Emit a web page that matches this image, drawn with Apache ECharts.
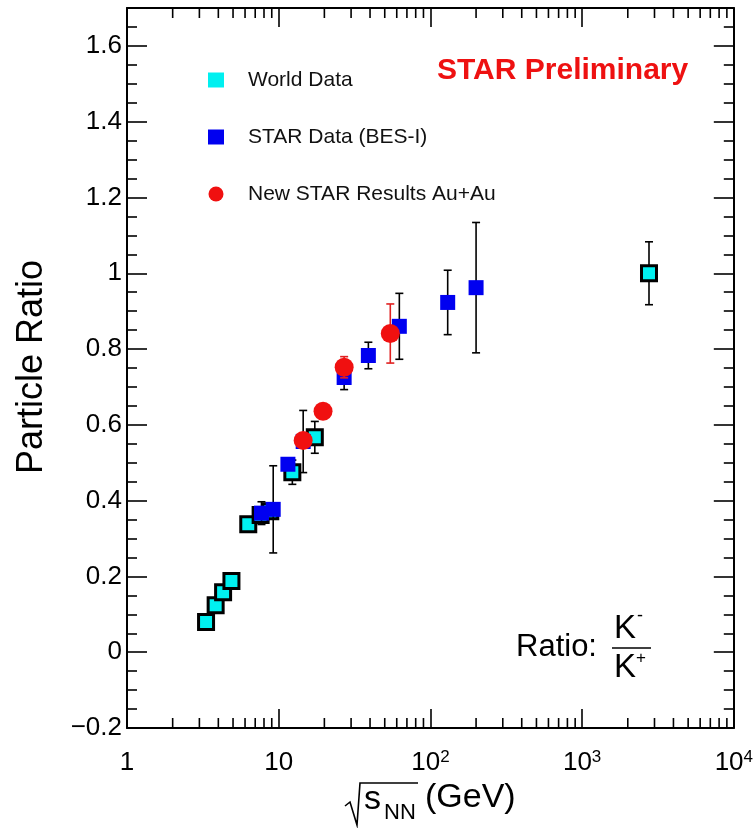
<!DOCTYPE html>
<html><head><meta charset="utf-8">
<script src="https://cdn.jsdelivr.net/npm/echarts@6/dist/echarts.min.js"></script>
<style>html,body{margin:0;padding:0;background:#fff}#c{width:756px;height:828px}</style>
</head><body><div id="c"></div>
<script>
// World data (cyan squares)
const worldX   = [3.32, 3.84, 4.3, 4.88, 6.3, 7.6, 8.8, 12.3, 17.3, 2760];
const worldY   = [0.080, 0.124, 0.158, 0.188, 0.338, 0.362, 0.372, 0.475, 0.567, 1.000];
const worldErr = [0.004, 0.004, 0.004, 0.004, 0.008, 0.01, 0.01, 0.032, 0.042, 0.083];
// STAR Data (BES-I) (blue squares)
const starX   = [7.7, 9.2, 11.5, 14.5, 27, 39, 62.4, 130, 200];
const starY   = [0.367, 0.377, 0.496, 0.556, 0.725, 0.783, 0.860, 0.923, 0.962];
const starErr = [0.030, 0.115, 0.015, 0.082, 0.032, 0.035, 0.087, 0.085, 0.172];
// New STAR Results Au+Au (red circles)
const newX   = [14.5, 19.6, 27, 54.4];
const newY   = [0.559, 0.636, 0.752, 0.841];
const newErr = [0.008, 0.008, 0.028, 0.078];
// Axis
const yTickLabels = ['\u22120.2','0','0.2','0.4','0.6','0.8','1','1.2','1.4','1.6'];
const xDecades = [1, 10, 100, 1000, 10000];

const F = '"Liberation Sans", Arial, Helvetica, sans-serif';
const chart = echarts.init(document.getElementById('c'), null, {renderer:'canvas'});

const minorX = [];
for (let d = 0; d < 4; d++) for (let k = 2; k <= 9; k++) minorX.push(k * Math.pow(10, d));

function pts(xs, ys){ return xs.map((x,i)=>[x, ys[i]]); }
function errs(xs, ys, es){ return xs.map((x,i)=>[x, ys[i]-es[i], ys[i]+es[i]]); }
function errRender(color, cap){
  return function(params, api){
    const x = api.value(0), lo = api.value(1), hi = api.value(2);
    const a = api.coord([x, lo]), b = api.coord([x, hi]);
    const st = {stroke: color, lineWidth: 1.6};
    return {type:'group', children:[
      {type:'line', shape:{x1:a[0], y1:a[1], x2:b[0], y2:b[1]}, style:st},
      {type:'line', shape:{x1:a[0]-cap, y1:a[1], x2:a[0]+cap, y2:a[1]}, style:st},
      {type:'line', shape:{x1:b[0]-cap, y1:b[1], x2:b[0]+cap, y2:b[1]}, style:st}
    ]};
  };
}

const lineSt = {color:'#000', width:2};
const tickSt = {color:'#000', width:1.6};

function yFmt(v){
  const idx = Math.round((v + 0.2) / 0.2);
  if (Math.abs(v - (-0.2 + idx*0.2)) > 1e-6) return '';
  return yTickLabels[idx] || '';
}
function xFmt(v){
  const e = Math.round(Math.log10(v));
  if (xDecades.indexOf(Math.pow(10, e)) < 0) return '';
  if (e === 0) return '{b|1}';
  if (e === 1) return '{b|10}';
  return '{b|10}{s|' + e + '}';
}

const yCommon = {
  type:'value', min:-0.2, max:1.7, interval:0.2,
  axisLine:{show:true, onZero:false, lineStyle:lineSt},
  axisTick:{show:true, inside:true, length:20, lineStyle:tickSt},
  minorTick:{show:true, splitNumber:4, length:10, lineStyle:tickSt},
  splitLine:{show:false}, minorSplitLine:{show:false}
};
const xCommon = {
  type:'log', logBase:10, min:1, max:10000,
  axisLine:{show:true, onZero:false, lineStyle:lineSt},
  axisTick:{show:true, inside:true, length:19, lineStyle:tickSt},
  splitLine:{show:false}
};

const option = {
  animation:false,
  backgroundColor:'#fff',
  grid:{left:127, right:20, top:8, bottom:100, containLabel:false},
  xAxis:[
    Object.assign({}, xCommon, {position:'bottom',
      axisLabel:{show:true, margin:21, color:'#000', fontFamily:F, fontSize:26, formatter:xFmt,
        rich:{b:{fontFamily:F, fontSize:26, color:'#000', lineHeight:28},
              s:{fontFamily:F, fontSize:17, color:'#000', lineHeight:14, verticalAlign:'top'}}}}),
    Object.assign({}, xCommon, {position:'top', axisLabel:{show:false}})
  ],
  yAxis:[
    Object.assign({}, yCommon, {position:'left',
      axisLabel:{show:true, margin:5, color:'#000', fontFamily:F, fontSize:26, formatter:yFmt}}),
    Object.assign({}, yCommon, {position:'right', axisLabel:{show:false}})
  ],
  legend:{
    orient:'vertical', left:203, top:64, itemWidth:16, itemHeight:15, itemGap:35,
    data:[{name:'World Data', icon:'rect'}, {name:'STAR Data (BES-I)', icon:'rect'}, {name:'New STAR Results Au+Au', icon:'circle'}],
    itemStyle:{borderWidth:0},
    textStyle:{fontFamily:F, fontSize:21, color:'#111', lineHeight:22, padding:[0,0,0,19]}
  },
  graphic:[
    {type:'text', left:437, top:56, style:{text:'STAR Preliminary', font:'bold 30px ' + F, fill:'#ee1111'}},
    {type:'text', x:32, y:367, rotation:Math.PI/2, style:{text:'Particle Ratio', font:'36px ' + F, fill:'#000', textAlign:'center', textVerticalAlign:'middle', align:'center', verticalAlign:'middle'}},
    // x title
    {type:'polyline', shape:{points:[[345,806],[350,802],[357,825],[360,783],[418,783]]}, style:{stroke:'#000', lineWidth:1.6, fill:null}},
    {type:'text', left:364, top:783, style:{text:'s', font:'34px ' + F, fill:'#000'}},
    {type:'text', left:384, top:802, style:{text:'NN', font:'22px ' + F, fill:'#000'}},
    {type:'text', left:425, top:781, style:{text:'(GeV)', font:'34px ' + F, fill:'#000'}},
    // Ratio: K-/K+
    {type:'text', left:516, top:632, style:{text:'Ratio:', font:'31px ' + F, fill:'#000'}},
    {type:'text', left:614, top:612, style:{text:'K', font:'33px ' + F, fill:'#000'}},
    {type:'text', left:637, top:607, style:{text:'-', font:'18px ' + F, fill:'#000'}},
    {type:'line', shape:{x1:612, y1:648, x2:651, y2:648}, style:{stroke:'#000', lineWidth:1.6}},
    {type:'text', left:614, top:651, style:{text:'K', font:'33px ' + F, fill:'#000'}},
    {type:'text', left:636, top:650, style:{text:'+', font:'17px ' + F, fill:'#000'}}
  ],
  series:[
    {type:'custom', name:'minorTicks', silent:true, z:10, xAxisIndex:0, yAxisIndex:0,
     data: minorX.map(v => [v, -0.2]), encode:{x:0, y:1},
     renderItem:function(params, api){
       const v = api.value(0);
       const a = api.coord([v, -0.2]), b = api.coord([v, 1.7]);
       return {type:'group', children:[
         {type:'line', shape:{x1:a[0], y1:a[1], x2:a[0], y2:a[1]-10}, style:{stroke:'#000', lineWidth:1.6}},
         {type:'line', shape:{x1:b[0], y1:b[1], x2:b[0], y2:b[1]+10}, style:{stroke:'#000', lineWidth:1.6}}
       ]};
     }},
    {type:'custom', name:'worldErr', z:2, data:errs(worldX, worldY, worldErr), encode:{x:0, y:[1,2]}, renderItem:errRender('#000', 4)},
    {type:'scatter', name:'World Data', z:3, symbol:'rect', symbolSize:15, data:pts(worldX, worldY),
     itemStyle:{color:'#00f0f0', borderColor:'#000', borderWidth:3, opacity:1}},
    {type:'custom', name:'starErr', z:4, data:errs(starX, starY, starErr), encode:{x:0, y:[1,2]}, renderItem:errRender('#000', 4)},
    {type:'scatter', name:'STAR Data (BES-I)', z:5, symbol:'rect', symbolSize:15, data:pts(starX, starY),
     itemStyle:{color:'#0000f0', opacity:1}},
    {type:'custom', name:'newErr', z:6, data:errs(newX, newY, newErr), encode:{x:0, y:[1,2]}, renderItem:errRender('#e02020', 4)},
    {type:'scatter', name:'New STAR Results Au+Au', z:7, symbol:'circle', symbolSize:19, data:pts(newX, newY),
     itemStyle:{color:'#f01010', opacity:1}}
  ]
};
chart.setOption(option);
</script>
</body></html>
